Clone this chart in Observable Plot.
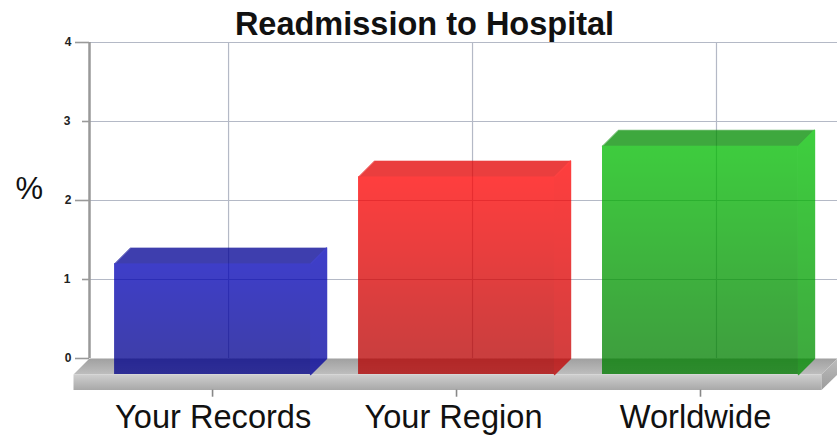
<!DOCTYPE html>
<html>
<head>
<meta charset="utf-8">
<script src="https://cdn.jsdelivr.net/npm/d3@7"></script>
<script src="https://cdn.jsdelivr.net/npm/@observablehq/plot@0.6"></script>
<style>
  html, body { margin: 0; padding: 0; background: #fff; overflow: hidden; }
  #title {
    box-sizing: border-box; height: 32px; padding-top: 9px; width: 837px;
    text-align: center; font: bold 32.5px/30px "Liberation Sans", sans-serif; color: #111;
    white-space: nowrap; text-indent: 12px;
  }
  svg { display: block; overflow: visible; }
</style>
</head>
<body>
<div id="title">Readmission to Hospital</div>
<div id="chart"></div>
<script>
const categories = ["Your Records", "Your Region", "Worldwide"];
const values = [1.4, 2.5, 2.89];
const longTicks = [0, 2, 4];
const shortTicks = [1, 3];
const gridY = [1, 2, 3, 4];
// Category labels are centred a little off their tick marks.
const labelCentres = [-0.063, 0.922, 1.914];

// Colours of each bar: front face top and bottom, roof, side top and bottom.
const barFront = [["#0000b8", "#000088"], ["#ff0000", "#b20000"], ["#00bc00", "#007c00"]];
const barRoof = ["#000094", "#e40000", "#008c00"];
const barSide = [["#0000b8", "#00009c"], ["#ff0000", "#c00000"], ["#00c000", "#008c00"]];
const barOpacity = 0.76;

// The extruded look: the back plane holds the scales, the front plane sits forward of it.
const depthX = 16 / 244;
const depthY = 16 / 79;
const halfWidth = 98 / 244;
const floorDrop = 0.4;
const xMin = -0.57, xMax = 2.496;

const face = (pts) => pts.map(([x, y]) => ({x, y}));

function gradient(id, c0, c1) {
  return `<linearGradient id="${id}" x1="0" y1="0" x2="0" y2="1">
    <stop offset="0" stop-color="${c0}"/><stop offset="1" stop-color="${c1}"/></linearGradient>`;
}

// Gradient definitions shared by the faces.
function defsMark() {
  const defs = d3.create("svg:defs");
  defs.html(
    gradient("floorTop", "#a0a0a0", "#bebebe") +
    gradient("floorFront", "#cfcfcf", "#a8a8a8") +
    gradient("floorSide", "#bcbcbc", "#9c9c9c") +
    categories.map((_, i) =>
      gradient(`front${i}`, barFront[i][0], barFront[i][1]) +
      gradient(`side${i}`, barSide[i][0], barSide[i][1])
    ).join("")
  );
  return defs.node();
}

const polygon = (pts, fill, extra = {}) =>
  Plot.line(face(pts), {x: "x", y: "y", fill, stroke: "none", curve: "linear-closed", ...extra});

const floorL = xMin - depthX, floorR = xMax - depthX;

const floorMarks = [
  polygon([[xMin, 0], [xMax, 0], [floorR, -depthY], [floorL, -depthY]], "url(#floorTop)"),
  polygon([[floorL, -depthY], [floorR, -depthY], [floorR, -floorDrop], [floorL, -floorDrop]], "url(#floorFront)"),
  polygon([[floorR, -depthY], [xMax, 0], [xMax, -depthY], [floorR, -floorDrop]], "url(#floorSide)")
];

// Each bar's faces are tagged so they can share one translucent group below.
const barMarks = categories.flatMap((_, i) => {
  const v = values[i];
  const fl = i - depthX - halfWidth, fr = i - depthX + halfWidth;
  const bl = i - halfWidth, br = i + halfWidth;
  const tag = {className: `bar-face-${i}`};
  return [
    polygon([[fl, v - depthY], [fr, v - depthY], [br, v], [bl, v]], barRoof[i],
      {...tag, stroke: barRoof[i], strokeWidth: 0.6}),
    polygon([[fr, v - depthY], [br, v], [br, 0], [fr, -depthY]], `url(#side${i})`,
      {...tag, stroke: `url(#side${i})`, strokeWidth: 1.4}),
    Plot.rect([{x1: fl, x2: fr, y1: -depthY, y2: v - depthY}], {
      x1: "x1", x2: "x2", y1: "y1", y2: "y2", fill: `url(#front${i})`, ...tag
    })
  ];
});

const plot = Plot.plot({
  width: 837,
  height: 405,
  marginTop: 10,
  marginBottom: 47.4,
  marginLeft: 89,
  marginRight: 0,
  style: {background: "transparent", fontFamily: "'Liberation Sans', sans-serif"},
  x: {type: "linear", domain: [xMin, xMax], axis: null},
  y: {domain: [-floorDrop, 4], axis: null},
  marks: [
    defsMark,
    Plot.ruleY(gridY, {y: (d) => d, stroke: "#b4b9c6", strokeWidth: 1.2}),
    Plot.ruleX([0, 1, 2], {x: (d) => d, y1: 0, y2: 4, stroke: "#b4b9c6", strokeWidth: 1.2}),
    ...floorMarks,
    ...barMarks,
    Plot.ruleX([xMin], {x: (d) => d, y1: 0, y2: 4, stroke: "#999", strokeWidth: 2.5}),
    Plot.axisY({
      ticks: longTicks, tickFormat: "d", tickSize: 14, tickPadding: 4, label: null,
      stroke: "#999", strokeWidth: 1.6, fontSize: 12, fontWeight: "bold", fill: "#222"
    }),
    Plot.axisY({
      ticks: shortTicks, tickFormat: "d", tickSize: 7, tickPadding: 12, label: null,
      stroke: "#999", strokeWidth: 1.6, fontSize: 12, fontWeight: "bold", fill: "#222"
    }),
    Plot.ruleX([0, 1, 2], {
      x: (d) => d, dx: -16, y1: -floorDrop, y2: -floorDrop - 0.09, stroke: "#888", strokeWidth: 1.6
    }),
    Plot.text(categories, {
      x: (_, i) => labelCentres[i], frameAnchor: "bottom", dy: 27, lineAnchor: "middle",
      text: (d) => d, fontSize: 32.6, fill: "#111"
    }),
    Plot.text(["%"], {
      y: [2.14], frameAnchor: "left", dx: -74, text: (d) => d,
      fontSize: 31, fill: "#111"
    })
  ]
});

// Gather each bar's faces into one group, so the translucency applies to the solid as a whole.
categories.forEach((_, i) => {
  const parts = [...plot.querySelectorAll(`.bar-face-${i}`)].filter((p) => p.parentNode === plot);
  const group = document.createElementNS("http://www.w3.org/2000/svg", "g");
  group.setAttribute("opacity", barOpacity);
  if (parts.length) parts[0].before(group); else plot.append(group);
  parts.forEach((p) => group.append(p));
});

document.getElementById("chart").append(plot);
</script>
</body>
</html>
